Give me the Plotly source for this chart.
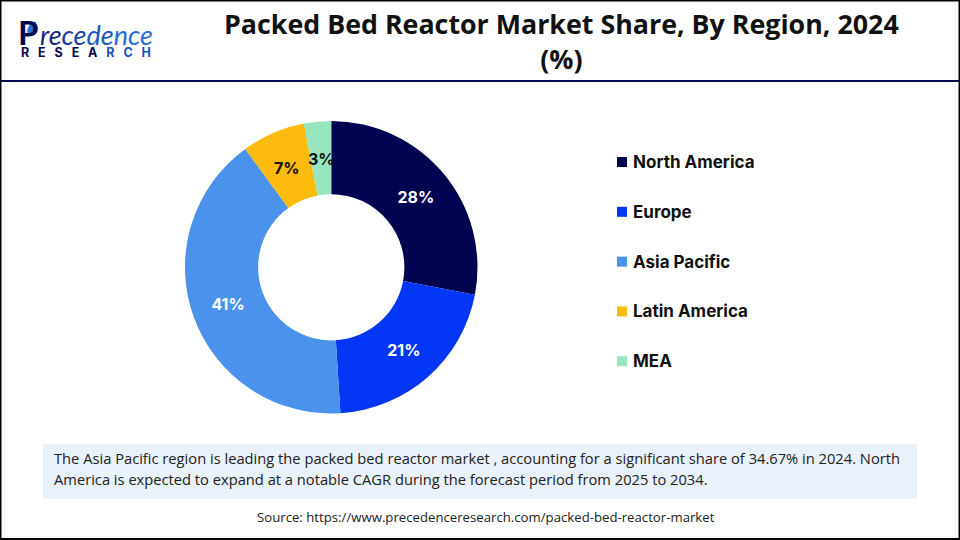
#!/usr/bin/env python3
"""Packed bed reactor market share donut, by region."""

import plotly.graph_objects as go

REGIONS = ['North America', 'Europe', 'Asia Pacific', 'Latin America', 'MEA']
SHARES = [28, 21, 41, 7, 3]
COLORS = ['#00034f', '#0336f5', '#4a92ec', '#fdbb0d', '#98e6bd']
LABEL_COLORS = ['#ffffff', '#ffffff', '#ffffff', '#111111', '#111111']

TITLE = 'Packed Bed Reactor Market Share, By Region, 2024<br>(%)'
NOTE_LINES = [
    'The Asia Pacific region is leading the packed bed reactor market , accounting for a '
    'significant share of 34.67% in 2024. North',
    'America is expected to expand at a notable CAGR during the forecast period from 2025 to 2034.',
]
SOURCE = 'Source: https://www.precedenceresearch.com/packed-bed-reactor-market'

W, H = 960, 540


def px(x):
    return x / W


def py(y):
    return 1 - y / H


# the two thin slices get their labels placed by hand below, plotly pushes them to the rim
slice_text = [f'<b>{v}%</b>' if v > 10 else '' for v in SHARES]

fig = go.Figure(go.Pie(
    labels=REGIONS,
    values=SHARES,
    hole=0.5,
    sort=False,
    direction='clockwise',
    rotation=0,
    marker=dict(colors=COLORS, line=dict(width=0)),
    text=slice_text,
    textinfo='text',
    textposition='inside',
    insidetextorientation='horizontal',
    textfont=dict(family='Inter', size=16, color=LABEL_COLORS),
    domain=dict(x=[px(185), px(477.5)], y=[py(413.5), py(121)]),
    showlegend=False,
))

shapes = [
    dict(type='rect', xref='paper', yref='paper', x0=px(43), x1=px(917), y0=py(499), y1=py(444),
         fillcolor='#e9f1fa', line=dict(width=0), layer='below'),
    dict(type='line', xref='paper', yref='paper', x0=0, x1=1, y0=py(81), y1=py(81),
         line=dict(color='#03084f', width=2)),
    dict(type='rect', xref='paper', yref='paper', x0=px(0.5), x1=px(959.5), y0=py(539), y1=py(0.5),
         line=dict(color='#000000', width=2)),
]

annotations = [
    dict(text=f'<b>{TITLE}</b>', x=px(561), y=py(41), font=dict(family='Open Sans', size=26.8, color='#111111')),
    dict(text=SOURCE, x=px(486.5), y=py(517), font=dict(family='Open Sans', size=13.2, color='#222222')),
    dict(text=f'<b>{SHARES[3]}%</b>', x=px(287), y=py(168), font=dict(family='Inter', size=16, color=LABEL_COLORS[3])),
    dict(text=f'<b>{SHARES[4]}%</b>', x=px(321), y=py(159), font=dict(family='Inter', size=16, color=LABEL_COLORS[4])),
    # logo wordmark
    dict(text='<b>P</b>', x=px(16), y=py(32), xanchor='left',
         font=dict(family='Lato', size=33, color='#03084f')),
    dict(text='<i><span style="color:#12267e">re</span><span style="color:#1a3f9e">ce</span>'
              '<span style="color:#2056c0">de</span><span style="color:#2a6bd6">nce</span></i>',
         x=px(38), y=py(35), xanchor='left', font=dict(family='Lato', size=27)),
    dict(text='<b><span style="color:#03084f">R   E   S   E   A</span>'
              '<span style="color:#1a4fc0">   R   C   H</span></b>',
         x=px(19), y=py(53), xanchor='left', font=dict(family='Inter', size=12.5)),
]

for i, line in enumerate(NOTE_LINES):
    annotations.append(dict(text=line, x=px(52), y=py(458 + i * 21), xanchor='left', align='left',
                            font=dict(family='Open Sans', size=14.7, color='#222222')))

# legend drawn by hand, the rows are 50px apart
for i, (region, color) in enumerate(zip(REGIONS, COLORS)):
    y = 162 + i * 49.8
    shapes.append(dict(type='rect', xref='paper', yref='paper', x0=px(617), x1=px(627),
                       y0=py(y + 5), y1=py(y - 5), fillcolor=color, line=dict(width=0)))
    annotations.append(dict(text=f'<b>{region}</b>', x=px(631), y=py(y), xanchor='left',
                            font=dict(family='Inter', size=17, color='#111111')))

for a in annotations:
    a.setdefault('xanchor', 'center')
    a.update(xref='paper', yref='paper', showarrow=False, yanchor='middle')

# leaf in the logo P
shapes.append(dict(type='path', xref='paper', yref='paper',
                   path=f'M {px(37)} {py(21)} Q {px(25)} {py(23)} {px(27)} {py(35)} Q {px(36)} {py(33)} {px(37)} {py(21)} Z',
                   fillcolor='#2a6bd6', line=dict(color='white', width=1)))

fig.update_layout(
    width=W,
    height=H,
    margin=dict(l=0, r=0, t=0, b=0),
    paper_bgcolor='white',
    shapes=shapes,
    annotations=annotations,
    uniformtext=dict(minsize=16, mode='show'),
)

fig.write_html('out.html', config=dict(displayModeBar=False),
               post_script="document.body.style.margin='0';")
